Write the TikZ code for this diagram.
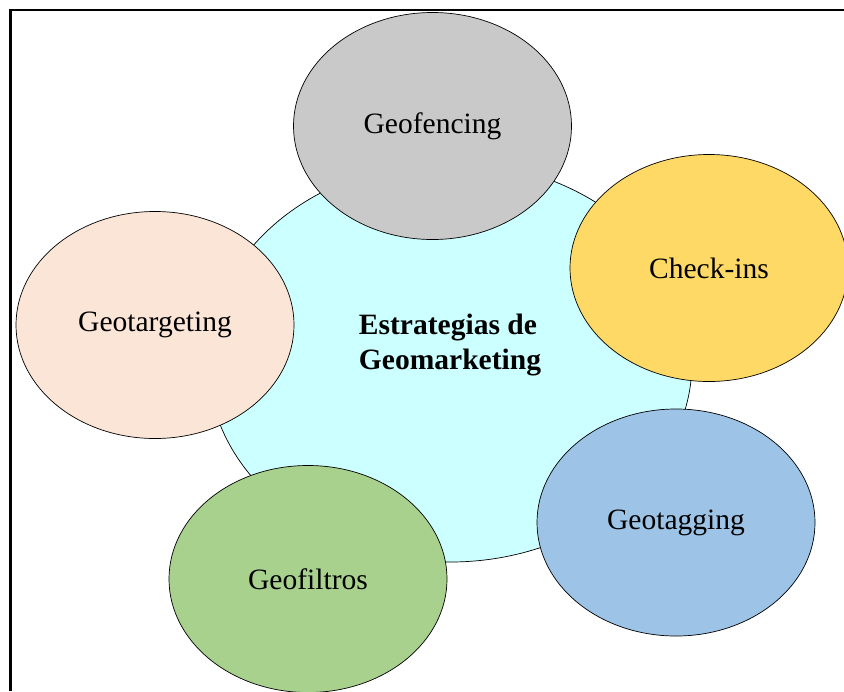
\documentclass[tikz,border=0pt]{standalone}
\usepackage{fontspec}
\setmainfont{Liberation Serif}
\usetikzlibrary{shapes.geometric}
\definecolor{centro}{HTML}{CCFFFF}
\definecolor{gris}{HTML}{C9C9C9}
\definecolor{amarillo}{HTML}{FFD966}
\definecolor{azul}{HTML}{9DC3E6}
\definecolor{verde}{HTML}{A9D18E}
\definecolor{durazno}{HTML}{FBE5D6}
\tikzset{
% big ellipse in the middle and the five around it
center node/.style={ellipse,draw,line width=0.6pt,fill=centro,inner sep=0,minimum width=14.52cm,minimum height=12cm},
outer node/.style={ellipse,draw,line width=0.6pt,inner sep=0,minimum width=8.34cm,minimum height=6.81cm},
title node/.style={align=left,font=\bfseries\fontsize{25.2}{29.9}\selectfont}
}
\begin{document}
\begin{tikzpicture}[x=0.03cm,y=-0.03cm,font=\fontsize{25.2}{29.9}\selectfont]
\useasboundingbox (0,0) rectangle (844,691);
% frame
\draw[line width=2.5pt] (10.5,691) -- (10.5,10) -- (844,10);
% the strategy
\node(estrategias)[center node] at (450,362) {};
\node(titulo)[title node] at (450,345) {Estrategias de\\Geomarketing};
% the five ellipses
\node(geofencing)[outer node,fill=gris] at (432.5,126) {Geofencing};
\node(checkins)[outer node,fill=amarillo] at (709,268) {Check-ins};
\node(geotagging)[outer node,fill=azul] at (676,522.5) {Geotagging};
\node(geofiltros)[outer node,fill=verde] at (308,579) {Geofiltros};
\node(geotargeting)[outer node,fill=durazno] at (155,325) {Geotargeting};
\end{tikzpicture}
\end{document}
